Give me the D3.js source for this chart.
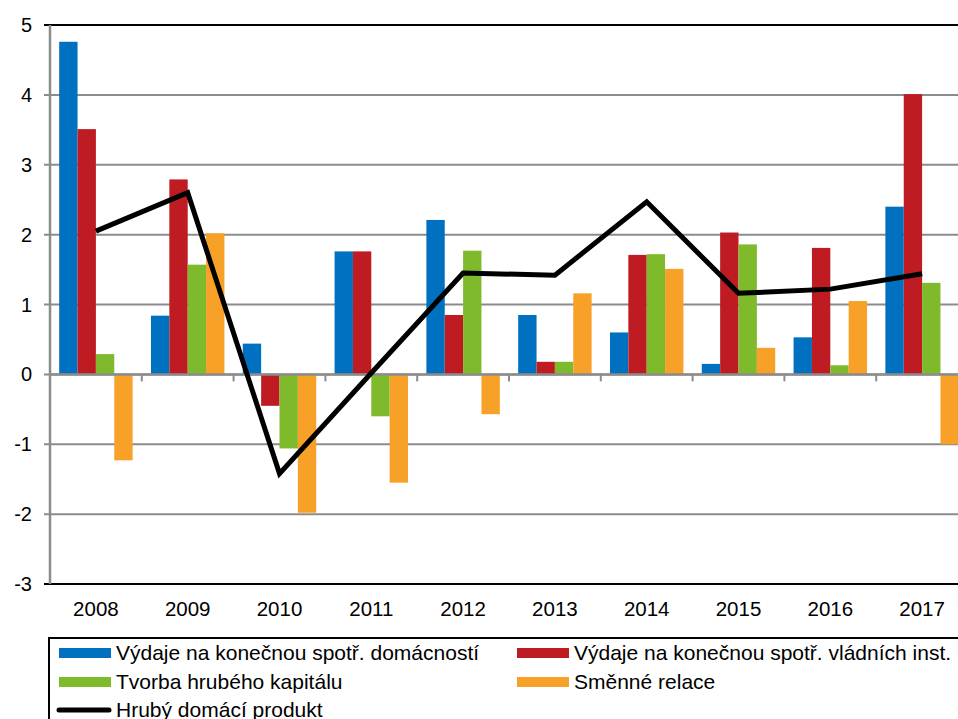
<!DOCTYPE html>
<html>
<head>
<meta charset="utf-8">
<script src="https://cdn.jsdelivr.net/npm/d3@7"></script>
<style>
  body { margin: 0; background: #fff; }
  svg { display: block; font-family: "Liberation Sans", Arial, sans-serif; }
</style>
</head>
<body>
<svg id="drawing_region"></svg>
<script>
const years = ["2008", "2009", "2010", "2011", "2012", "2013", "2014", "2015", "2016", "2017"];
const seriesNames = [
    "Výdaje na konečnou spotř. domácností",
    "Výdaje na konečnou spotř. vládních inst.",
    "Tvorba hrubého kapitálu",
    "Směnné relace"
];
const households = [4.76, 0.84, 0.44, 1.76, 2.21, 0.85, 0.60, 0.15, 0.53, 2.40];
const government = [3.51, 2.79, -0.45, 1.76, 0.85, 0.18, 1.71, 2.03, 1.81, 4.01];
const capital    = [0.29, 1.57, -1.06, -0.60, 1.77, 0.18, 1.72, 1.86, 0.13, 1.31];
const termsTrade = [-1.23, 2.02, -1.98, -1.55, -0.57, 1.16, 1.51, 0.38, 1.05, -1.00];
const gdpName = "Hrubý domácí produkt";
const gdp = [2.05, 2.60, -1.42, 0.02, 1.45, 1.42, 2.47, 1.16, 1.22, 1.44];
const yTicks = [-3, -2, -1, 0, 1, 2, 3, 4, 5];
const colors = ["#0070C0", "#BE1B23", "#7EBA2C", "#F8A128"];

class ComboChart {

    constructor( config ) {
        this.config = config;
        this.series = [households, government, capital, termsTrade];
        this.init();
    }

    init() {
        let self = this;
        const c = self.config;

        self.svg = d3.select( c.parent )
            .attr('width', c.width)
            .attr('height', c.height);

        self.xscale = d3.scaleBand()
            .domain( years )
            .range( [c.left, c.right] );

        self.subscale = d3.scaleBand()
            .domain( d3.range(seriesNames.length) )
            .range( [0, self.xscale.bandwidth()] )
            .paddingInner(0)
            .paddingOuter(0.5);

        self.yscale = d3.scaleLinear()
            .domain( [d3.min(yTicks), d3.max(yTicks)] )
            .range( [c.bottom, c.top] );
    }

    render() {
        let self = this;
        const c = self.config;
        const x = self.xscale, y = self.yscale;

        // gridlines (top and bottom in black)
        self.svg.append('g').selectAll('line')
            .data(yTicks)
            .join('line')
            .attr('x1', c.left - 6)
            .attr('x2', c.right)
            .attr('y1', d => y(d))
            .attr('y2', d => y(d))
            .attr('stroke', d => (d === d3.min(yTicks) || d === d3.max(yTicks)) ? "#000" : "#8c8c8c")
            .attr('stroke-width', 2);

        // y axis line
        self.svg.append('line')
            .attr('x1', c.left).attr('x2', c.left)
            .attr('y1', c.top).attr('y2', c.bottom)
            .attr('stroke', "#8c8c8c")
            .attr('stroke-width', 2.5);

        // y labels
        self.svg.append('g').selectAll('text')
            .data(yTicks)
            .join('text')
            .attr('x', c.left - 18)
            .attr('y', d => y(d))
            .attr('dy', "0.35em")
            .attr('text-anchor', "end")
            .attr('font-size', "20px")
            .attr('fill', "#000")
            .text(d => d);

        // bars
        const groups = self.svg.append('g').selectAll('g')
            .data(years)
            .join('g')
            .attr('transform', d => `translate(${x(d)},0)`);

        groups.selectAll('rect')
            .data((yr, i) => self.series.map((s, k) => ({k: k, v: s[i]})))
            .join('rect')
            .attr('x', d => self.subscale(d.k))
            .attr('width', self.subscale.bandwidth())
            .attr('y', d => y(Math.max(0, d.v)))
            .attr('height', d => Math.abs(y(d.v) - y(0)))
            .attr('fill', d => colors[d.k]);

        // zero axis with category ticks
        self.svg.append('line')
            .attr('x1', c.left).attr('x2', c.right)
            .attr('y1', y(0)).attr('y2', y(0))
            .attr('stroke', "#8c8c8c")
            .attr('stroke-width', 2.5);

        self.svg.append('g').selectAll('line')
            .data(years.slice(1))
            .join('line')
            .attr('x1', d => x(d)).attr('x2', d => x(d))
            .attr('y1', y(0)).attr('y2', y(0) + 7)
            .attr('stroke', "#8c8c8c")
            .attr('stroke-width', 2);

        // GDP line
        const line = d3.line()
            .x((d, i) => x(years[i]) + x.bandwidth() / 2)
            .y(d => y(d));

        self.svg.append('path')
            .datum(gdp)
            .attr('d', line)
            .attr('fill', "none")
            .attr('stroke', "#000")
            .attr('stroke-width', 5)
            .attr('stroke-linejoin', "miter");

        // x labels
        self.svg.append('g').selectAll('text')
            .data(years)
            .join('text')
            .attr('x', d => x(d) + x.bandwidth() / 2)
            .attr('y', c.bottom + 32)
            .attr('text-anchor', "middle")
            .attr('font-size', "20.5px")
            .attr('fill', "#000")
            .text(d => d);

        // legend
        const lg = self.svg.append('g');
        lg.append('rect')
            .attr('x', 49).attr('y', 638)
            .attr('width', 960).attr('height', 120)
            .attr('fill', "none")
            .attr('stroke', "#000")
            .attr('stroke-width', 2);

        const slots = [
            {x: 59, y: 653}, {x: 517, y: 653},
            {x: 59, y: 682}, {x: 517, y: 682}
        ];
        seriesNames.forEach((name, k) => {
            const s = slots[k];
            lg.append('rect')
                .attr('x', s.x).attr('y', s.y - 5)
                .attr('width', 52).attr('height', 10)
                .attr('fill', colors[k]);
            lg.append('text')
                .attr('x', s.x + 57).attr('y', s.y)
                .attr('dy', "0.35em")
                .attr('font-size', "21px")
                .attr('fill', "#000")
                .text(name);
        });

        lg.append('line')
            .attr('x1', 59).attr('x2', 109)
            .attr('y1', 710).attr('y2', 710)
            .attr('stroke', "#000")
            .attr('stroke-width', 5)
            .attr('stroke-linecap', "round");
        lg.append('text')
            .attr('x', 116).attr('y', 710)
            .attr('dy', "0.35em")
            .attr('font-size', "21px")
            .attr('fill', "#000")
            .text(gdpName);
    }
}

const chart = new ComboChart({
    parent: '#drawing_region',
    width: 958,
    height: 719,
    left: 50,
    right: 968,
    top: 25,
    bottom: 584
});
chart.render();
</script>
</body>
</html>
